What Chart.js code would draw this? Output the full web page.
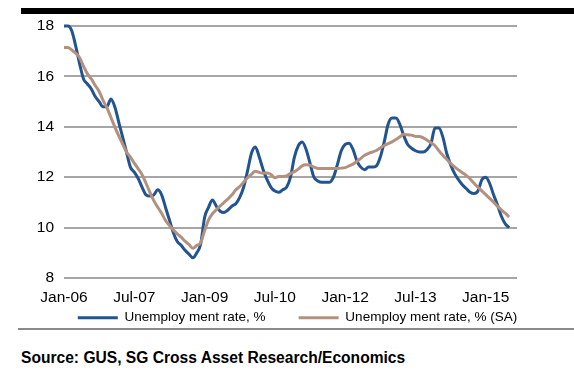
<!DOCTYPE html>
<html>
<head>
<meta charset="utf-8">
<script src="https://cdn.jsdelivr.net/npm/chart.js@4/dist/chart.umd.min.js"></script>
<style>
  html, body { margin: 0; padding: 0; background: #fff; }
  body { width: 574px; height: 384px; position: relative; overflow: hidden; font-family: "Liberation Sans", Arial, sans-serif; }
  #topbar { position: absolute; left: 21px; top: 8px; width: 553px; height: 6px; background: #000; }
  #wrap { position: absolute; left: 0; top: 0; width: 574px; height: 340px; }
  #sep { position: absolute; left: 18px; top: 328px; width: 556px; height: 2px; background: #8a8a8a; }
  #source { position: absolute; left: 21px; top: 349px; font-size: 15.6px; line-height: 18px; font-weight: bold; color: #000; white-space: nowrap; }
</style>
</head>
<body>
<div id="topbar"></div>
<div id="wrap"><canvas id="c" width="574" height="340"></canvas></div>
<div id="sep"></div>
<div id="source">Source: GUS, SG Cross Asset Research/Economics</div>
<script>
// Series labels
const seriesNames = ['Unemploy ment rate, %', 'Unemploy ment rate, % (SA)'];

// Monthly categories Jan-06 .. Sep-15
const monthNames = ['Jan','Feb','Mar','Apr','May','Jun','Jul','Aug','Sep','Oct','Nov','Dec'];
const categories = [];
for (let y = 2006; y <= 2015; y++) {
  for (let m = 0; m < 12; m++) {
    if (y === 2015 && m > 8) break;
    categories.push(monthNames[m] + '-' + String(y % 100).padStart(2, '0'));
  }
}

// Axis tick labels shown
const tickLabels = ['Jan-06', 'Jul-07', 'Jan-09', 'Jul-10', 'Jan-12', 'Jul-13', 'Jan-15'];
const yTicks = [8, 10, 12, 14, 16, 18];

// Unemployment rate, % (Jan-06 .. Jul-15)
const rateNSA = [
  18.0, 18.0, 17.8, 17.2, 16.5, 15.9, 15.7, 15.5, 15.2, 15.0,
  14.8, 14.8, 15.1, 14.8, 14.2, 13.6, 13.0, 12.4, 12.2, 11.95,
  11.6, 11.3, 11.25, 11.3, 11.5, 11.3, 10.8, 10.3, 9.8, 9.45,
  9.3, 9.1, 8.95, 8.8, 9.0, 9.35, 10.4, 10.8, 11.1, 10.85,
  10.65, 10.6, 10.7, 10.85, 10.95, 11.2, 11.6, 12.25, 12.95, 13.2,
  12.8, 12.3, 11.9, 11.6, 11.45, 11.4, 11.5, 11.6, 12.0, 12.8,
  13.25, 13.4, 13.1, 12.55, 12.0, 11.85, 11.8, 11.8, 11.8, 12.0,
  12.5, 13.05, 13.3, 13.35, 13.1, 12.65, 12.4, 12.3, 12.4, 12.4,
  12.45, 12.8, 13.4, 14.1, 14.35, 14.35, 14.1, 13.65, 13.3, 13.15,
  13.05, 13.0, 13.0, 13.1, 13.35, 13.95, 13.95, 13.6, 12.95, 12.5,
  12.15, 11.9, 11.7, 11.55, 11.4, 11.35, 11.45, 11.9, 12.0, 11.75,
  11.3, 10.9, 10.45, 10.15, 10.0
];

// Unemployment rate, % (SA)
const rateSA = [
  17.15, 17.15, 17.05, 16.92, 16.74, 16.4, 16.1, 15.9, 15.64, 15.4,
  15.05, 14.75, 14.38, 14.0, 13.65, 13.32, 13.0, 12.8, 12.56, 12.33,
  12.1, 11.76, 11.4, 11.07, 10.81, 10.57, 10.28, 10.08, 9.91, 9.75,
  9.62, 9.46, 9.33, 9.18, 9.29, 9.4, 9.88, 10.3, 10.55, 10.71,
  10.86, 11.0, 11.14, 11.3, 11.5, 11.63, 11.8, 11.98, 12.11, 12.24,
  12.19, 12.16, 12.17, 12.11, 11.98, 12.03, 12.03, 12.05, 12.15, 12.22,
  12.32, 12.45, 12.49, 12.48, 12.4, 12.35, 12.35, 12.35, 12.35, 12.35,
  12.35, 12.36, 12.38, 12.45, 12.52, 12.62, 12.75, 12.87, 12.95, 13.0,
  13.06, 13.16, 13.26, 13.33, 13.4, 13.5, 13.6, 13.7, 13.68, 13.67,
  13.62, 13.62, 13.56, 13.47, 13.37, 13.25, 13.05, 12.87, 12.71, 12.55,
  12.41, 12.29, 12.18, 12.07, 11.93, 11.76, 11.6, 11.46, 11.31, 11.16,
  11.01, 10.85, 10.7, 10.57, 10.42
];

const BLUE = '#22548f';
const BROWN = '#b4917f';
const FONT = "'Liberation Sans', Arial, sans-serif";

Chart.defaults.font.family = FONT;
Chart.defaults.color = '#000';

new Chart(document.getElementById('c'), {
  type: 'line',
  data: {
    labels: categories,
    datasets: [
      { label: seriesNames[0], data: rateNSA, borderColor: BLUE, backgroundColor: BLUE,
        borderWidth: 3, pointRadius: 0, cubicInterpolationMode: 'monotone', clip: 6, order: 1 },
      { label: seriesNames[1], data: rateSA, borderColor: BROWN, backgroundColor: BROWN,
        borderWidth: 3, pointRadius: 0, cubicInterpolationMode: 'monotone', clip: 6, order: 0 }
    ]
  },
  options: {
    responsive: false,
    animation: false,
    devicePixelRatio: 1,
    layout: { padding: { left: 21, right: 0, top: 26, bottom: 5.5 } },
    scales: {
      x: {
        type: 'category',
        offset: false,
        grid: { display: false, drawTicks: false },
        border: { display: false },
        ticks: {
          autoSkip: false, maxRotation: 0, minRotation: 0,
          mirror: true, padding: -29.3,
          font: { size: 15.5 }, color: '#000',
          callback: function (v) {
            const l = this.getLabelForValue(v);
            return tickLabels.includes(l) ? l : null;
          }
        },
        afterFit: (s) => { s.height = 0; }
      },
      y: {
        min: 8, max: 18,
        afterBuildTicks: (s) => { s.ticks = yTicks.map(v => ({ value: v })); },
        grid: { color: '#a6a6a6', lineWidth: 2, drawTicks: false },
        border: { display: false },
        ticks: { padding: 10, font: { size: 15.5 }, color: '#000' },
        afterFit: (s) => { s.width = 43; }
      },
      yR: {
        position: 'right',
        display: true,
        grid: { display: false, drawTicks: false },
        border: { display: false },
        ticks: { display: false },
        afterFit: (s) => { s.width = 57; }
      }
    },
    plugins: {
      tooltip: { enabled: false },
      legend: {
        position: 'bottom',
        labels: {
          boxWidth: 40, boxHeight: 3, padding: 33,
          font: { size: 13.5 }, color: '#000',
          sort: (a, b) => a.datasetIndex - b.datasetIndex,
          generateLabels: (chart) => {
            const items = Chart.defaults.plugins.legend.labels.generateLabels(chart);
            items.forEach(it => { it.fillStyle = it.strokeStyle; it.lineWidth = 0; });
            return items;
          }
        }
      }
    }
  }
});
</script>
</body>
</html>
